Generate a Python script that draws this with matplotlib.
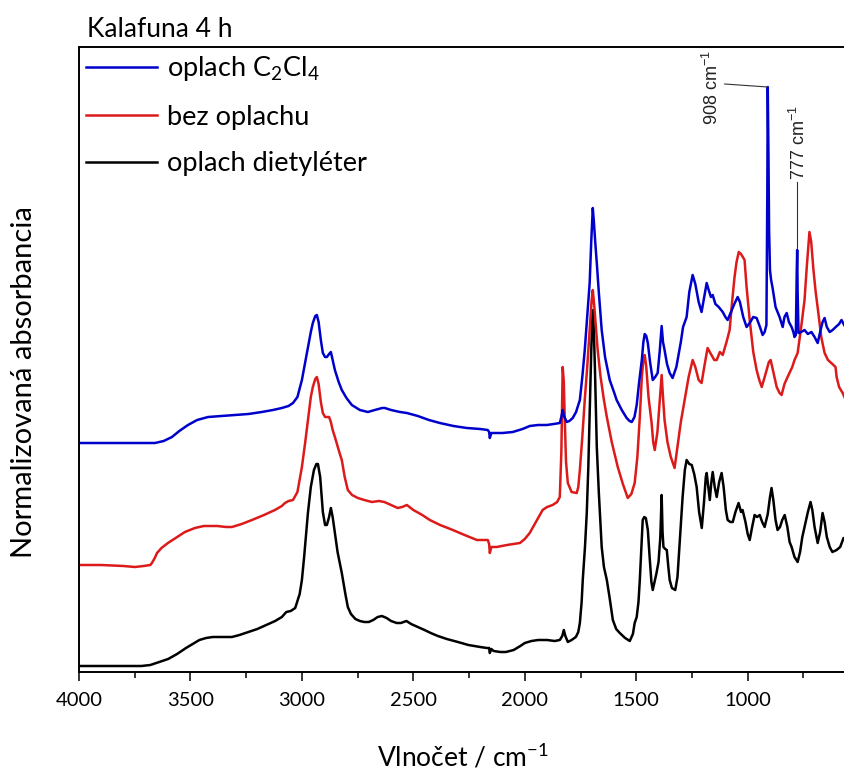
import numpy as np
import matplotlib
matplotlib.use('Agg')
import matplotlib.pyplot as plt
from matplotlib.ticker import MultipleLocator

plt.rcParams['font.family'] = ['Lato', 'DejaVu Sans']

# FTIR spectra, offset for display (wavenumber in cm-1, normalized absorbance)
wn_diethyl = [4000, 3900, 3800, 3720, 3680, 3640, 3600, 3560, 3520, 3490, 3460, 3430, 3400,
              3350, 3314, 3280, 3240, 3200, 3160, 3120, 3090, 3070, 3050, 3030, 3010, 3000,
              2990, 2973, 2960, 2946, 2935, 2928, 2918, 2906, 2896, 2888, 2878, 2870, 2862,
              2852, 2840, 2821, 2805, 2794, 2780, 2760, 2740, 2720, 2700, 2680, 2660, 2641,
              2620, 2600, 2575, 2556, 2531, 2510, 2480, 2450, 2422, 2390, 2350, 2300, 2253,
              2200, 2170, 2160, 2157, 2150, 2140, 2110, 2085, 2050, 2020, 2000, 1970, 1940,
              1900, 1866, 1843, 1832, 1825, 1818, 1807, 1790, 1771, 1760, 1753, 1745, 1740,
              1730, 1722, 1715, 1709, 1702, 1697, 1694, 1690, 1685, 1677, 1668, 1655, 1645,
              1632, 1620, 1605, 1590, 1574, 1550, 1529, 1515, 1507, 1498, 1490, 1484, 1477,
              1471, 1464, 1457, 1448, 1440, 1432, 1426, 1418, 1410, 1400, 1392, 1386, 1382,
              1378, 1370, 1363, 1356, 1350, 1340, 1325, 1315, 1305, 1292, 1282, 1274, 1262,
              1251, 1240, 1229, 1218, 1206, 1196, 1188, 1184, 1177, 1170, 1163, 1157, 1148,
              1139, 1128, 1117, 1108, 1098, 1090, 1078, 1067, 1055, 1041, 1030, 1023, 1010,
              1000, 991, 980, 969, 958, 946, 935, 924, 910, 900, 893, 885, 875, 866, 855, 845,
              834, 822, 812, 803, 790, 776, 765, 755, 745, 730, 718, 710, 700, 686, 675, 664,
              655, 645, 632, 620, 601, 585, 570, 550]
a_diethyl = [0.06, 0.06, 0.06, 0.06, 0.07, 0.10, 0.13, 0.18, 0.24, 0.28, 0.32, 0.34, 0.35,
             0.35, 0.35, 0.37, 0.40, 0.43, 0.47, 0.51, 0.55, 0.60, 0.61, 0.64, 0.78, 0.92,
             1.15, 1.59, 1.85, 2.02, 2.08, 2.08, 1.95, 1.60, 1.47, 1.47, 1.55, 1.64, 1.55,
             1.39, 1.20, 0.99, 0.78, 0.65, 0.58, 0.53, 0.51, 0.50, 0.50, 0.52, 0.55, 0.56,
             0.54, 0.51, 0.49, 0.49, 0.51, 0.48, 0.45, 0.42, 0.39, 0.36, 0.33, 0.30, 0.27,
             0.25, 0.24, 0.24, 0.19, 0.23, 0.21, 0.20, 0.20, 0.22, 0.26, 0.29, 0.31, 0.32,
             0.32, 0.31, 0.32, 0.36, 0.42, 0.36, 0.30, 0.32, 0.35, 0.40, 0.49, 0.70, 0.92,
             1.25, 1.59, 2.05, 2.59, 3.20, 3.55, 3.62, 3.40, 3.00, 2.25, 1.80, 1.25, 1.05,
             0.92, 0.75, 0.52, 0.43, 0.39, 0.34, 0.31, 0.38, 0.49, 0.55, 0.70, 0.92, 1.25,
             1.52, 1.55, 1.54, 1.42, 1.15, 0.90, 0.82, 0.90, 0.98, 1.10, 1.35, 1.77, 1.40,
             1.25, 1.23, 1.22, 1.05, 0.92, 0.84, 0.82, 0.95, 1.30, 1.75, 2.02, 2.12, 2.08,
             2.07, 1.98, 1.85, 1.60, 1.44, 1.70, 1.95, 1.99, 1.85, 1.72, 1.90, 2.00, 1.85,
             1.75, 1.90, 1.99, 1.85, 1.62, 1.52, 1.50, 1.50, 1.60, 1.69, 1.60, 1.62, 1.50,
             1.38, 1.32, 1.45, 1.57, 1.55, 1.57, 1.50, 1.45, 1.58, 1.75, 1.84, 1.72, 1.52,
             1.42, 1.45, 1.52, 1.57, 1.45, 1.30, 1.25, 1.15, 1.10, 1.20, 1.35, 1.45, 1.60,
             1.70, 1.62, 1.45, 1.29, 1.40, 1.59, 1.50, 1.35, 1.25, 1.20, 1.22, 1.25, 1.34,
             1.32]

wn_raw = [4000, 3900, 3800, 3749, 3710, 3680, 3673, 3660, 3650, 3630, 3601, 3560, 3525,
          3480, 3440, 3421, 3380, 3340, 3314, 3270, 3224, 3170, 3121, 3090, 3076, 3060,
          3040, 3020, 3000, 2985, 2973, 2960, 2951, 2940, 2933, 2925, 2915, 2906, 2896,
          2888, 2878, 2870, 2862, 2852, 2835, 2821, 2808, 2794, 2775, 2749, 2720, 2686,
          2654, 2630, 2600, 2570, 2550, 2529, 2500, 2460, 2426, 2380, 2323, 2270, 2215,
          2180, 2166, 2160, 2157, 2150, 2126, 2080, 2022, 2000, 1978, 1950, 1920, 1900,
          1875, 1855, 1843, 1836, 1830, 1825, 1821, 1815, 1807, 1790, 1767, 1760, 1753,
          1742, 1731, 1720, 1709, 1700, 1695, 1688, 1680, 1673, 1660, 1645, 1632, 1610,
          1583, 1560, 1538, 1522, 1507, 1495, 1484, 1475, 1468, 1462, 1455, 1445, 1431,
          1424, 1417, 1405, 1395, 1386, 1380, 1373, 1360, 1345, 1328, 1315, 1300, 1283,
          1265, 1247, 1235, 1220, 1207, 1195, 1180, 1165, 1150, 1139, 1125, 1112, 1095,
          1081, 1070, 1059, 1050, 1040, 1030, 1014, 1005, 991, 975, 960, 948, 937, 920, 905,
          897, 885, 870, 857, 848, 835, 821, 800, 790, 776, 760, 745, 735, 723, 715, 705,
          695, 683, 670, 655, 640, 620, 606, 601, 590, 574, 560, 550]
a_raw = [1.07, 1.07, 1.06, 1.05, 1.06, 1.07, 1.09, 1.14, 1.19, 1.24, 1.29, 1.35, 1.40,
         1.44, 1.46, 1.46, 1.46, 1.45, 1.45, 1.48, 1.52, 1.57, 1.62, 1.66, 1.69, 1.71,
         1.72, 1.80, 2.05, 2.30, 2.52, 2.75, 2.85, 2.93, 2.95, 2.88, 2.70, 2.59, 2.55,
         2.55, 2.55, 2.50, 2.42, 2.35, 2.22, 2.12, 1.95, 1.82, 1.77, 1.74, 1.72, 1.70,
         1.71, 1.70, 1.67, 1.64, 1.65, 1.67, 1.62, 1.57, 1.52, 1.47, 1.42, 1.37, 1.32,
         1.32, 1.32, 1.28, 1.19, 1.25, 1.25, 1.27, 1.29, 1.33, 1.39, 1.50, 1.62, 1.65,
         1.67, 1.70, 1.75, 2.20, 3.05, 2.90, 2.55, 2.10, 1.89, 1.80, 1.79, 1.85, 2.02,
         2.35, 2.72, 3.05, 3.42, 3.72, 3.82, 3.65, 3.42, 3.22, 2.95, 2.72, 2.55, 2.30,
         2.05, 1.88, 1.74, 1.78, 1.89, 2.15, 2.55, 2.95, 3.12, 3.17, 3.05, 2.75, 2.49,
         2.30, 2.22, 2.40, 2.70, 2.97, 2.75, 2.52, 2.30, 2.15, 2.04, 2.25, 2.50, 2.72,
         2.95, 3.12, 3.05, 2.92, 2.89, 3.05, 3.24, 3.18, 3.12, 3.12, 3.20, 3.17, 3.30,
         3.42, 3.70, 3.95, 4.10, 4.20, 4.18, 4.12, 3.85, 3.52, 3.20, 3.02, 2.92, 2.85, 2.98,
         3.10, 3.12, 3.00, 2.85, 2.79, 2.77, 2.88, 2.95, 3.05, 3.12, 3.19, 3.45, 3.72, 4.05,
         4.40, 4.30, 4.02, 3.80, 3.59, 3.35, 3.19, 3.12, 3.08, 3.05, 2.95, 2.85, 2.79, 2.72,
         2.70]

wn_c2cl4 = [4000, 3900, 3800, 3700, 3659, 3620, 3583, 3550, 3511, 3470, 3421, 3360, 3300,
            3240, 3180, 3130, 3090, 3060, 3040, 3020, 3000, 2985, 2973, 2960, 2951, 2940,
            2933, 2925, 2915, 2906, 2896, 2888, 2878, 2870, 2862, 2852, 2835, 2821, 2800,
            2776, 2740, 2704, 2673, 2640, 2628, 2600, 2560, 2529, 2480, 2430, 2381, 2320,
            2260, 2200, 2166, 2160, 2157, 2150, 2100, 2054, 2010, 1978, 1940, 1901, 1870,
            1843, 1836, 1830, 1824, 1812, 1800, 1785, 1770, 1753, 1742, 1731, 1720, 1709,
            1702, 1695, 1690, 1684, 1677, 1668, 1655, 1640, 1619, 1600, 1588, 1565, 1543,
            1530, 1520, 1508, 1498, 1487, 1475, 1468, 1462, 1455, 1448, 1438, 1426, 1415,
            1404, 1395, 1386, 1380, 1373, 1362, 1350, 1337, 1320, 1300, 1290, 1274, 1262,
            1247, 1235, 1220, 1207, 1195, 1184, 1175, 1165, 1157, 1145, 1130, 1112, 1100,
            1090, 1075, 1060, 1045, 1035, 1020, 1005, 991, 975, 960, 945, 933, 924, 916, 912,
            910, 907, 904, 900, 895, 889, 875, 857, 843, 835, 825, 815, 803, 795, 790, 784,
            780, 778, 776, 772, 760, 745, 730, 714, 700, 686, 675, 664, 655, 645, 632, 619,
            605, 590, 579, 565, 550]
a_c2cl4 = [2.29, 2.29, 2.29, 2.29, 2.29, 2.31, 2.35, 2.41, 2.47, 2.52, 2.55, 2.56, 2.57,
           2.58, 2.60, 2.62, 2.64, 2.66, 2.69, 2.75, 2.92, 3.10, 3.25, 3.40, 3.49, 3.56,
           3.57, 3.50, 3.32, 3.19, 3.15, 3.15, 3.18, 3.20, 3.12, 3.02, 2.90, 2.82, 2.74,
           2.67, 2.62, 2.60, 2.62, 2.64, 2.64, 2.62, 2.60, 2.59, 2.56, 2.52, 2.49, 2.46,
           2.44, 2.43, 2.42, 2.40, 2.34, 2.39, 2.39, 2.40, 2.43, 2.46, 2.47, 2.47, 2.48,
           2.49, 2.55, 2.62, 2.56, 2.50, 2.51, 2.54, 2.60, 2.72, 2.95, 3.22, 3.55, 3.89,
           4.30, 4.64, 4.50, 4.30, 4.09, 3.80, 3.42, 3.15, 2.92, 2.80, 2.72, 2.62, 2.54,
           2.51, 2.50, 2.55, 2.67, 2.90, 3.12, 3.30, 3.38, 3.36, 3.29, 3.10, 2.92, 2.95,
           2.99, 3.20, 3.46, 3.30, 3.22, 3.08, 2.99, 2.94, 3.05, 3.30, 3.45, 3.55, 3.80,
           3.97, 3.88, 3.70, 3.60, 3.75, 3.89, 3.82, 3.75, 3.77, 3.68, 3.65, 3.60, 3.55,
           3.52, 3.60, 3.68, 3.75, 3.70, 3.55, 3.45, 3.49, 3.55, 3.54, 3.45, 3.37, 3.40, 3.47, 4.80,
           5.85, 5.20, 4.42, 4.02, 3.92, 3.85, 3.65, 3.55, 3.45, 3.55, 3.59, 3.50, 3.45, 3.40, 3.35, 3.37,
           4.00, 4.22, 3.80, 3.39, 3.40, 3.42, 3.38, 3.40, 3.35, 3.29, 3.40, 3.50, 3.54, 3.45, 3.40, 3.42,
           3.45, 3.48, 3.52, 3.46, 3.47]

labels = ['oplach C$_\\mathregular{2}$Cl$_\\mathregular{4}$', 'bez oplachu', 'oplach dietyléter']
colors = ['#0000cc', '#dd1a1a', '#000000']

W, H = 844, 772
fig = plt.figure(figsize=(W / 100, H / 100), dpi=100)
# axes run past the right edge of the figure
x0, x1, y0, y1 = 79, 848, 47, 672
ax = fig.add_axes([x0 / W, 1 - y1 / H, (x1 - x0) / W, (y1 - y0) / H])

lw = 1.8
l_black, = ax.plot(wn_diethyl, a_diethyl, color=colors[2], lw=lw)
l_red, = ax.plot(wn_raw, a_raw, color=colors[1], lw=lw)
l_blue, = ax.plot(wn_c2cl4, a_c2cl4, color=colors[0], lw=lw)

ax.set_xlim(4000, 550)
ax.set_ylim(0, 6.25)
ax.xaxis.set_major_locator(MultipleLocator(500))
ax.xaxis.set_minor_locator(MultipleLocator(250))
ax.tick_params(axis='x', which='major', direction='out', length=6.5, width=1.1,
               labelsize=14.5, pad=8)
ax.tick_params(axis='x', which='minor', direction='out', length=4.3, width=1.1)
ax.set_yticks([])
for s in ax.spines.values():
    s.set_linewidth(1.4)

# peak annotations
ann_kw = dict(family=['Liberation Sans', 'DejaVu Sans'], fontsize=13, rotation=90,
              color='#222222')
ax.plot([1103, 911], [5.88, 5.85], color='#333333', lw=0.8)
ax.text(1160, 5.84, '908 cm$^\\mathregular{-1}$', ha='center', va='center', **ann_kw)
ax.plot([777, 777], [4.24, 4.90], color='#333333', lw=0.8)
ax.text(768, 4.92, '777 cm$^\\mathregular{-1}$', ha='center', va='bottom', **ann_kw)

leg = ax.legend([l_blue, l_red, l_black], labels, loc='upper left', frameon=False,
                fontsize=19.5, handlelength=2.62, handletextpad=0.37, labelspacing=0.8,
                borderaxespad=0.0, bbox_to_anchor=(-0.005, 1.006))

fig.text(87 / W, 1 - 37 / H, 'Kalafuna 4 h', fontsize=19, ha='left', va='baseline')
fig.text(463 / W, 1 - 757 / H, 'Vlnočet / cm$^\\mathregular{-1}$', fontsize=19,
         ha='center', va='center')
fig.text(24 / W, 1 - 382 / H, 'Normalizovaná absorbancia', fontsize=21, rotation=90,
         ha='center', va='center')

fig.savefig('out.png', dpi=100)
